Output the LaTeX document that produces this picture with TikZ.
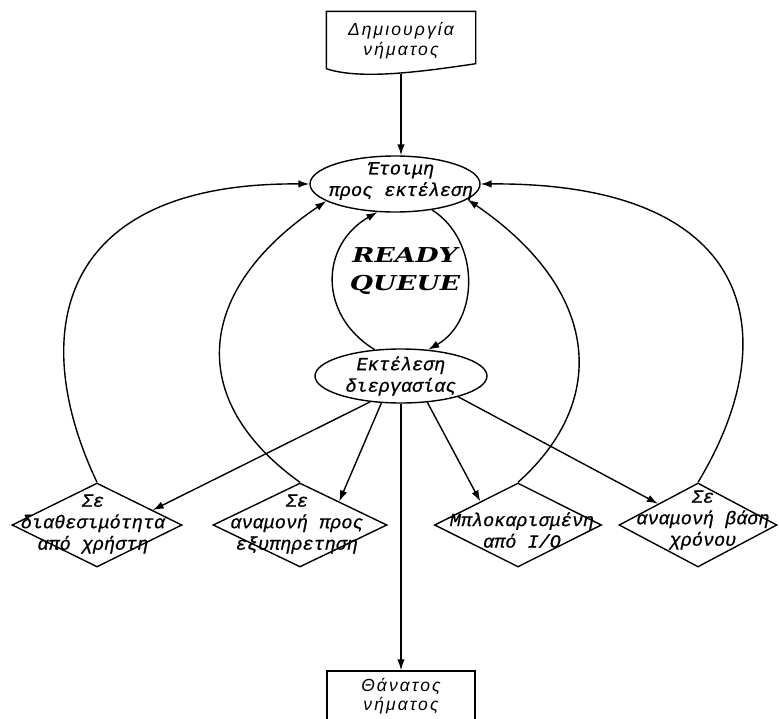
\documentclass[tikz,border=0pt]{standalone}
\usepackage{fontspec}
\usetikzlibrary{shapes.geometric,arrows.meta,calc}
\newfontfamily\monofam[FakeBold=0.8]{Liberation Mono}
\newfontfamily\sansfam[LetterSpace=12]{Liberation Sans}
\newfontfamily\slabfam[FakeStretch=1.3]{DejaVu Serif}

\begin{document}
\begin{tikzpicture}[x=1pt,y=-1pt,line width=1.4pt,
  mono/.style={font=\monofam\itshape\fontsize{18.5}{21.5}\selectfont, align=center, inner sep=0pt},
  sans/.style={font=\sansfam\itshape\fontsize{17.5}{19.5}\selectfont, align=center, inner sep=0pt},
  slab/.style={font=\slabfam\bfseries\itshape\fontsize{20.5}{28}\selectfont, align=center, inner sep=0pt},
  oval/.style={draw, ellipse, inner sep=0pt},
  dmd/.style={draw, diamond, inner sep=0pt, minimum height=84pt},
  rectbox/.style={draw, rectangle, inner sep=0pt},
  arr/.style={-{Latex[length=11pt,width=7.5pt]}},
]
\clip (0,0) rectangle (779,718);

% thread creation (document shape with wavy bottom)
\node[inner sep=0pt, minimum width=148pt, minimum height=56pt,
      label={[sans,yshift=-0.5pt]center:{Δημιουργία\\νήματος}}] (doc) at (401,40) {};
\draw (doc.south west) -- (doc.north west) -- (doc.north east)
      -- ([yshift=5pt]doc.south east)
      .. controls (420,72) and (360,80) .. (doc.south west);
\coordinate (docb) at ([yshift=-5pt]doc.south);

% states
\node[oval, minimum width=170pt, minimum height=56pt,
      label={[mono,xshift=6pt,yshift=3pt]center:{Έτοιμη\\προς εκτέλεση}}] (e1) at (395,184) {};
\node[oval, minimum width=172pt, minimum height=54pt,
      label={[mono]center:{Εκτέλεση\\διεργασίας}}] (e2) at (401,376) {};
\node[slab] (rq) at (405,271) {READY\\QUEUE};

\node[dmd, minimum width=170pt,
      label={[mono,xshift=-4pt,yshift=1pt]center:{Σε\\διαθεσιμότητα\\από χρήστη}}] (d1) at (97,525) {};
\node[dmd, minimum width=174pt,
      label={[mono,xshift=-3pt,yshift=1pt]center:{Σε\\αναμονή προς\\εξυπηρετηση}}] (d2) at (300,525) {};
\node[dmd, minimum width=167pt,
      label={[mono,xshift=4pt,yshift=-5pt]center:{Μπλοκαρισμένη\\από I/O}}] (d3) at (518,525) {};
\node[dmd, minimum width=158pt,
      label={[mono,xshift=5pt,yshift=5pt]center:{Σε\\αναμονή βάση\\χρόνου}}] (d4) at (698,525) {};

\node[rectbox, minimum width=148pt, minimum height=60pt,
      label={[sans,yshift=5pt]center:{Θάνατος\\νήματος}}] (death) at (401,701) {};

% creation -> ready
\draw[arr] (docb) -- (docb |- e1.north);

% ready queue loop
\draw[arr] (e2.135) .. controls (318,315) and (320,245) .. (e1.238);
\draw[arr] (e1.325) .. controls (480,240) and (480,320) .. (e2.44);

% running -> waiting states and termination
\draw[arr] (e2.220) -- (d1.15);
\draw[arr] (e2.234) -- (d2.31);
\draw[arr] (e2.315) -- (d3.148);
\draw[arr] (e2.340) -- (d4.152);
\draw[arr] (e2.south) -- (death.north);

% waiting states -> ready
\draw[arr] (d1.north) .. controls (25,330) and (60,182) .. (e1.west);
\draw[arr] (d2.north) .. controls (185,400) and (195,290) .. (e1.194);
\draw[arr] (d3.north) .. controls (610,400) and (600,290) .. (e1.348);
\draw[arr] (d4.north) .. controls (790,330) and (750,182) .. (e1.east);
\end{tikzpicture}
\end{document}
